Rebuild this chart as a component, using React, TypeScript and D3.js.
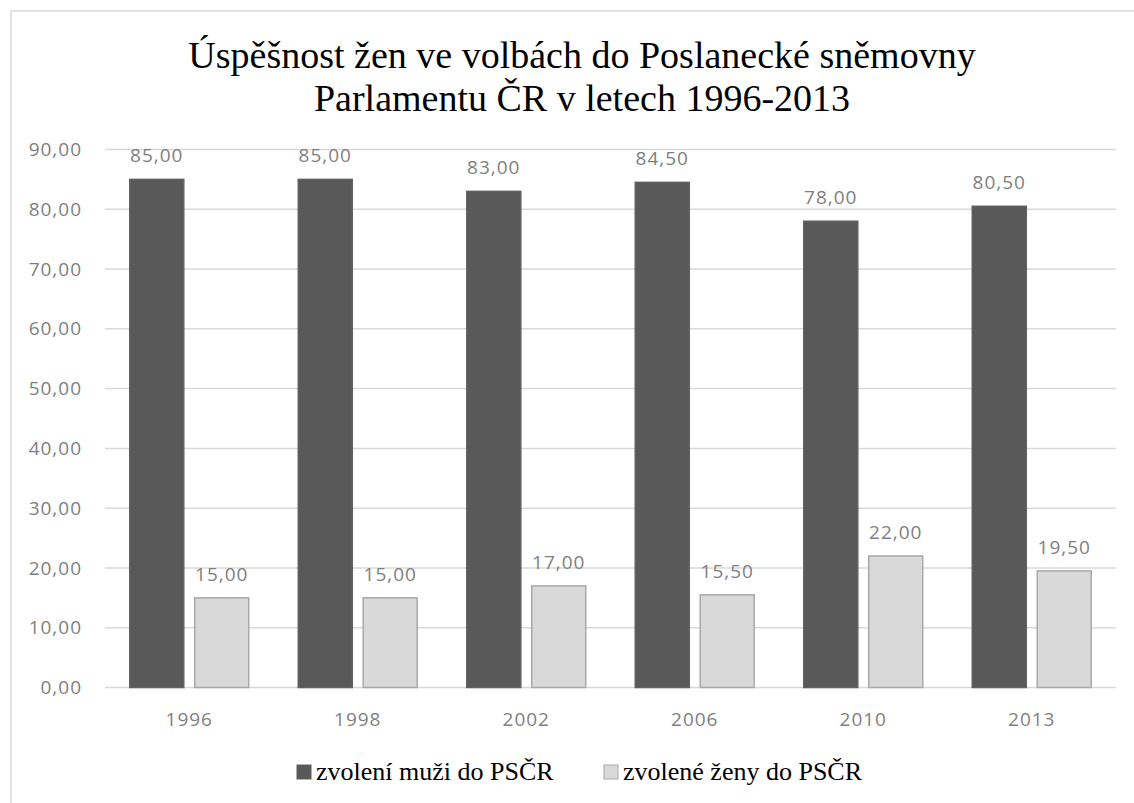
import React from "react";
import * as d3 from "d3";

const years = ["1996", "1998", "2002", "2006", "2010", "2013"];
const men = [85.0, 85.0, 83.0, 84.5, 78.0, 80.5];
const women = [15.0, 15.0, 17.0, 15.5, 22.0, 19.5];
const yTicks = [0, 10, 20, 30, 40, 50, 60, 70, 80, 90];
const seriesNames = ["zvolení muži do PSČR", "zvolené ženy do PSČR"];
const titleLines = [
  "Úspěšnost žen ve volbách do Poslanecké sněmovny",
  "Parlamentu ČR v letech 1996-2013",
];

const width = 1134;
const height = 803;
const margin = { top: 149.5, right: 18, bottom: 115.5, left: 105 };

const fmt = (v: number) => v.toFixed(2).replace(".", ",");
const sans = "Open Sans, sans-serif";
const serif =
  "'Liberation Serif', 'Times New Roman', Times, Tinos, 'Nimbus Roman', 'Noto Serif', FreeSerif, 'DejaVu Serif', serif";
const textGray = "#7f7f7f";

const App = () => {
  const x = d3
    .scaleBand<string>()
    .domain(years)
    .range([margin.left, width - margin.right])
    .paddingInner(0.294)
    .paddingOuter(0.147);
  const y = d3.scaleLinear([0, 90], [height - margin.bottom, margin.top]);
  const bw = x.bandwidth();
  const gap = bw * 0.092;
  const barW = (bw - gap) / 2;

  const series = [
    { values: men, fill: "#595959", stroke: "#616161" },
    { values: women, fill: "#d9d9d9", stroke: "#a9a9a9" },
  ];

  return (
    <svg
      width={width}
      height={height}
      style={{ position: "absolute", left: 0, top: 0, background: "#fff" }}
    >
      <rect x={11} y={11} width={width} height={height} fill="#fff" stroke="#d9d9d9" strokeWidth={1.5} />
      <g style={{ fontFamily: serif }} fontSize={38} fill="#000" textAnchor="middle">
        {titleLines.map((t, i) => (
          <text key={i} x={582} y={68 + i * 43}>
            {t}
          </text>
        ))}
      </g>
      <g>
        {yTicks.map((t) => (
          <g key={t}>
            <line
              x1={margin.left}
              x2={width - margin.right}
              y1={y(t)}
              y2={y(t)}
              stroke="#d9d9d9"
              strokeWidth={1.5}
            />
            <text
              x={82}
              y={y(t)}
              dy="0.35em"
              textAnchor="end"
              fontFamily={sans}
              fontSize={19}
              letterSpacing={1}
              fill={textGray}
            >
              {fmt(t)}
            </text>
          </g>
        ))}
      </g>
      {series.map((s, si) => (
        <g key={si}>
          {s.values.map((v, i) => {
            const bx = (x(years[i]) ?? 0) + si * (barW + gap);
            return (
              <g key={i}>
                <rect
                  x={bx}
                  y={y(v)}
                  width={barW}
                  height={y(0) - y(v)}
                  fill={s.fill}
                  stroke={s.stroke}
                  strokeWidth={1.5}
                />
                <text
                  x={bx + barW / 2}
                  y={y(v) - 17}
                  textAnchor="middle"
                  fontFamily={sans}
                  fontSize={19}
                  letterSpacing={1}
                  fill={textGray}
                >
                  {fmt(v)}
                </text>
              </g>
            );
          })}
        </g>
      ))}
      <g fontFamily={sans} fontSize={19} letterSpacing={1} fill={textGray} textAnchor="middle">
        {years.map((yr) => (
          <text key={yr} x={(x(yr) ?? 0) + bw / 2} y={726}>
            {yr}
          </text>
        ))}
      </g>
      <g style={{ fontFamily: serif }} fontSize={26} fill="#000">
        {seriesNames.map((n, i) => {
          const lx = i === 0 ? 297 : 604;
          return (
            <g key={n}>
              <rect
                x={lx}
                y={765}
                width={14}
                height={14}
                fill={series[i].fill}
                stroke={series[i].stroke}
                strokeWidth={1}
              />
              <text x={lx + 19} y={780}>
                {n}
              </text>
            </g>
          );
        })}
      </g>
    </svg>
  );
};

export default App;
